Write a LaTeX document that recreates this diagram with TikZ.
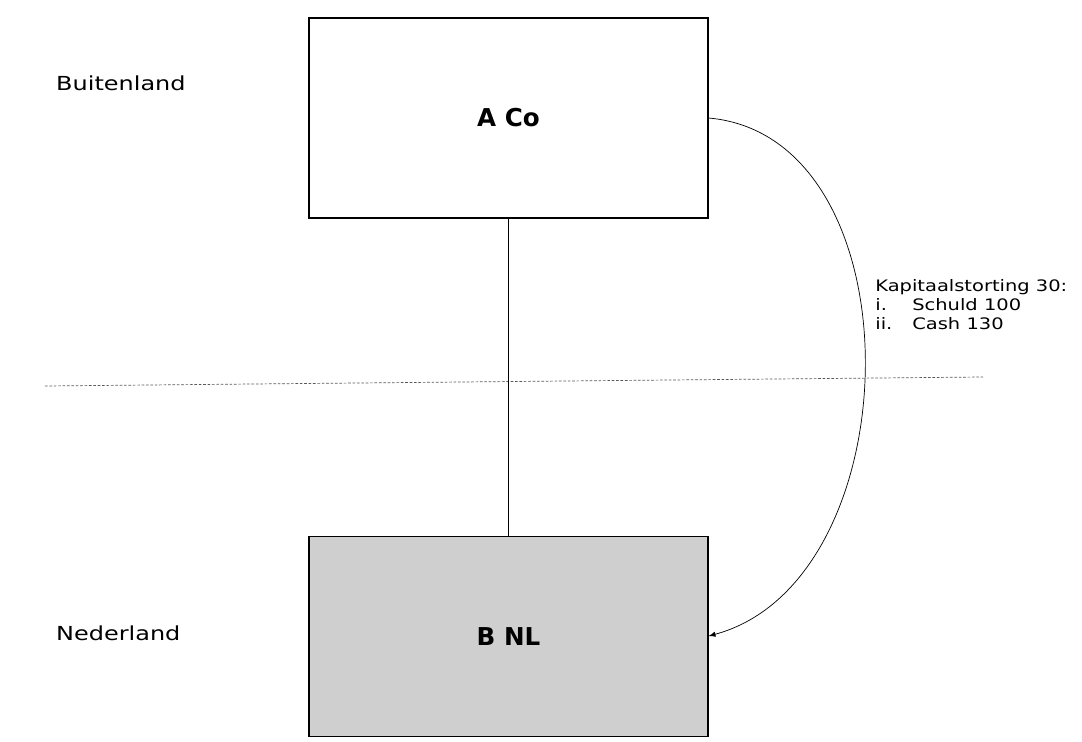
\documentclass[tikz,border=0pt]{standalone}
\usepackage{fontspec}
\setmainfont{DejaVu Sans}
\newfontfamily\widefont[FakeStretch=1.24]{DejaVu Sans}
\newfontfamily\remarkfont[FakeStretch=1.23]{DejaVu Sans}
\usetikzlibrary{arrows,positioning}
\tikzset{
  company/.style = {draw, rectangle, minimum width=7.98cm, minimum height=4cm,
                    font=\fontsize{14}{16}\selectfont\bfseries, line width=0.6pt},
  foreign/.style = {company, fill=white},
  dutch/.style   = {company, fill=black!19},
  country/.style = {anchor=west, font=\widefont\fontsize{11}{12}\selectfont},
  remark/.style  = {anchor=north west, align=left, inner sep=0pt,
                    font=\remarkfont\fontsize{9}{10.8}\selectfont}
}

\begin{document}
\begin{tikzpicture}[>=latex]
\useasboundingbox (0,0) rectangle (21.64,-14.84);

% the two companies
\node[foreign] (aco) at (10.17,-2.36) {A Co};
\node[dutch, below=6.34cm of aco] (bnl) {B NL};

% countries
\node[country] (bui) at (1.0,-1.66) {Buitenland};
\node[country] (ned) at (1.0,-12.66) {Nederland};

% border between the countries
\coordinate (bl) at (0.9,-7.72);
\coordinate (br) at (19.66,-7.54);
\draw[dash pattern=on 1.5pt off 1pt, black!65, thin] (bl) -- (br);

% shareholding
\draw[thin] (aco) -- (bnl);

% contribution
\draw[->, thin] (aco.east) to[out=-5, in=15, looseness=1.05] (bnl.east);
\node[remark] (kap) at (17.5,-5.58) {Kapitaalstorting 30:\\
  \makebox[0.74cm][l]{i.}Schuld 100\\
  \makebox[0.74cm][l]{ii.}Cash 130};
\end{tikzpicture}
\end{document}
